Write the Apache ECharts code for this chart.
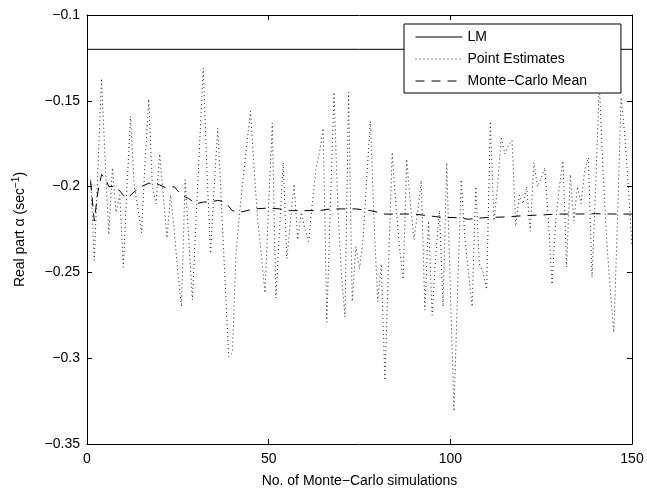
<!DOCTYPE html>
<html>
<head>
<meta charset="utf-8">
<script src="https://cdn.jsdelivr.net/npm/echarts@6/dist/echarts.min.js"></script>
<style>
html,body{margin:0;padding:0;background:#fff;}
#chart{width:647px;height:493px;}
</style>
</head>
<body>
<div id="chart"></div>
<script>
// LM reference value
const lmValue = -0.12;
const lmRange = [0, 150];

// Point estimates for simulations 1..150
const pointEstimates = [
 -0.196,-0.243,-0.190,-0.137,-0.185,-0.228,-0.189,-0.215,-0.205,-0.247,
 -0.200,-0.159,-0.200,-0.212,-0.227,-0.185,-0.149,-0.200,-0.210,-0.181,
 -0.205,-0.230,-0.205,-0.225,-0.250,-0.270,-0.196,-0.230,-0.266,-0.220,
 -0.175,-0.131,-0.190,-0.239,-0.200,-0.166,-0.210,-0.255,-0.299,-0.297,
 -0.240,-0.215,-0.195,-0.175,-0.156,-0.190,-0.220,-0.240,-0.262,-0.210,
 -0.163,-0.265,-0.225,-0.186,-0.242,-0.220,-0.1985,-0.231,-0.215,-0.225,
 -0.232,-0.210,-0.190,-0.180,-0.166,-0.279,-0.210,-0.145,-0.210,-0.250,
 -0.276,-0.145,-0.267,-0.235,-0.248,-0.230,-0.195,-0.162,-0.220,-0.267,
 -0.245,-0.313,-0.245,-0.180,-0.210,-0.235,-0.254,-0.184,-0.210,-0.231,
 -0.215,-0.1965,-0.272,-0.220,-0.275,-0.240,-0.214,-0.270,-0.186,-0.260,
 -0.331,-0.260,-0.196,-0.230,-0.250,-0.270,-0.200,-0.245,-0.250,-0.260,
 -0.162,-0.220,-0.200,-0.171,-0.181,-0.176,-0.173,-0.223,-0.205,-0.210,
 -0.200,-0.226,-0.186,-0.200,-0.195,-0.189,-0.220,-0.257,-0.220,-0.200,
 -0.185,-0.247,-0.193,-0.220,-0.200,-0.210,-0.190,-0.183,-0.253,-0.200,
 -0.140,-0.190,-0.230,-0.260,-0.285,-0.220,-0.148,-0.170,-0.200,-0.235
];

// Monte-Carlo running mean, read at selected simulation counts
const meanX = [1,2,3,4,5,6,8,10,11,13,15,17,20,22,24,26,28,30,32,34,36,38,40,42,44,46,50,53,56,60,64,67,70,74,78,82,86,90,94,98,101,105,110,115,120,125,130,135,140,145,150];
const meanY = [-0.197,-0.220,-0.203,-0.193,-0.195,-0.200,-0.200,-0.205,-0.207,-0.203,-0.200,-0.198,-0.199,-0.201,-0.200,-0.205,-0.207,-0.210,-0.209,-0.209,-0.208,-0.209,-0.214,-0.215,-0.214,-0.213,-0.2125,-0.213,-0.214,-0.214,-0.214,-0.213,-0.213,-0.213,-0.214,-0.216,-0.216,-0.216,-0.217,-0.218,-0.218,-0.219,-0.218,-0.2177,-0.217,-0.2165,-0.216,-0.216,-0.2158,-0.216,-0.216];

// Axis settings
const xMin = 0, xMax = 150, xStep = 50;
const yMin = -0.35, yMax = -0.1, yStep = 0.05;

const FONT = '"Liberation Sans", Arial, Helvetica, sans-serif';
const fmtY = v => String(Math.round(v * 100) / 100).replace('-', '\u2212');

const chart = echarts.init(document.getElementById('chart'), null, {renderer: 'canvas'});
const axisLine = {show: true, onZero: false, lineStyle: {color: '#000', width: 1}};
const tick = {show: true, inside: true, length: 5, lineStyle: {color: '#000'}};

chart.setOption({
  animation: false,
  backgroundColor: '#fff',
  textStyle: {fontFamily: FONT},
  grid: {left: 87, right: 15, top: 15, bottom: 47, containLabel: false},
  legend: {
    orient: 'vertical',
    left: 404, top: 24,
    padding: [6, 34, 5, 11],
    itemGap: 8,
    itemWidth: 47, itemHeight: 13,
    backgroundColor: '#fff',
    borderColor: '#000', borderWidth: 1, borderRadius: 0,
    itemStyle: {color: 'rgba(0,0,0,0)', borderColor: 'rgba(0,0,0,0)', borderWidth: 0, opacity: 0},
    lineStyle: {width: 1},
    textStyle: {fontFamily: FONT, fontSize: 14, color: '#000'},
    data: ['LM', 'Point Estimates', 'Monte\u2212Carlo Mean']
  },
  xAxis: [{
    type: 'value', min: xMin, max: xMax, interval: xStep,
    name: 'No. of Monte\u2212Carlo simulations', nameLocation: 'middle', nameGap: 30,
    nameTextStyle: {fontFamily: FONT, fontSize: 14, color: '#000'},
    axisLine: axisLine, axisTick: tick,
    axisLabel: {fontFamily: FONT, fontSize: 14, color: '#000', margin: 8},
    splitLine: {show: false}
  }, {
    type: 'value', position: 'top', min: xMin, max: xMax, interval: xStep,
    axisLine: axisLine, axisTick: tick, axisLabel: {show: false}, splitLine: {show: false}
  }],
  yAxis: [{
    type: 'value', min: yMin, max: yMax, interval: yStep,
    name: 'Real part \u03b1 (sec{sup|\u22121})', nameLocation: 'middle', nameGap: 58, nameRotate: 90,
    nameTextStyle: {fontFamily: FONT, fontSize: 14, color: '#000',
      rich: {sup: {fontFamily: FONT, fontSize: 10, color: '#000', verticalAlign: 'top', padding: [0, 0, 8, 0]}}},
    axisLine: axisLine, axisTick: tick,
    axisLabel: {fontFamily: FONT, fontSize: 14, color: '#000', margin: 7, formatter: fmtY},
    splitLine: {show: false}
  }, {
    type: 'value', position: 'right', min: yMin, max: yMax, interval: yStep,
    axisLine: axisLine, axisTick: tick, axisLabel: {show: false}, splitLine: {show: false}
  }],
  series: [{
    name: 'LM', type: 'line', symbol: 'none', silent: true,
    lineStyle: {color: '#000', width: 1, type: 'solid'},
    itemStyle: {color: '#000'},
    data: lmRange.map(x => [x, lmValue])
  }, {
    name: 'Point Estimates', type: 'line', symbol: 'none', silent: true,
    lineStyle: {color: '#222', width: 1, type: [1, 3]},
    itemStyle: {color: '#222'},
    data: pointEstimates.map((v, i) => [i + 1, v])
  }, {
    name: 'Monte\u2212Carlo Mean', type: 'line', symbol: 'none', silent: true,
    lineStyle: {color: '#000', width: 1, type: [9, 7]},
    itemStyle: {color: '#000'},
    data: meanX.map((x, i) => [x, meanY[i]])
  }]
});
</script>
</body>
</html>
